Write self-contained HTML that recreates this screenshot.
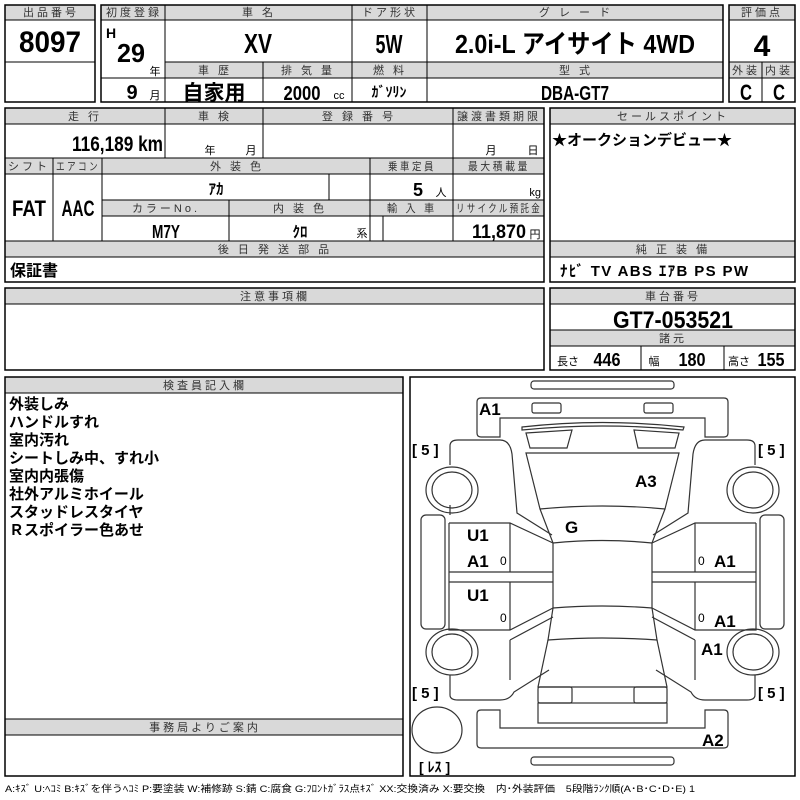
<!DOCTYPE html>
<html><head><meta charset="utf-8"><style>
html,body{margin:0;padding:0;background:#fff}
svg{display:block}
.h{fill:#d9d9d9;stroke:#000;stroke-width:1}
.b{fill:none;stroke:#000;stroke-width:1.5}
.l{stroke:#000;stroke-width:1}
.ht{font-family:"Liberation Sans","Noto Sans CJK JP",sans-serif;font-size:11px;fill:#333;text-anchor:middle;letter-spacing:3px}
.v{font-family:"Liberation Sans Narrow","Liberation Sans","Noto Sans CJK JP",sans-serif;font-weight:bold;fill:#000;text-anchor:middle}
.j{font-family:"Liberation Sans","Noto Sans CJK JP",sans-serif;font-weight:bold;fill:#000}
.s{font-family:"Liberation Sans","Noto Sans CJK JP",sans-serif;font-size:11px;fill:#000;text-anchor:middle}
.d path,.d rect,.d ellipse,.d polyline{fill:none;stroke:#333;stroke-width:1.2}
.lb{font-family:"Liberation Sans","Noto Sans CJK JP",sans-serif;font-weight:bold;font-size:17px;fill:#000}
</style></head><body>
<svg width="800" height="800" viewBox="0 0 800 800" xmlns="http://www.w3.org/2000/svg">
<rect class="h" x="5" y="5" width="90" height="15"/>
<rect class="b" x="5" y="5" width="90" height="97"/>
<line class="l" x1="5" y1="62" x2="95" y2="62"/>
<text class="ht" x="51" y="16">出品番号</text>
<text class="v" x="50" y="52" font-size="30" textLength="62" lengthAdjust="spacingAndGlyphs">8097</text>

<rect class="h" x="101" y="5" width="622" height="15"/>
<rect class="h" x="165" y="62" width="558" height="16"/>
<rect class="b" x="101" y="5" width="622" height="97"/>
<line class="l" x1="101" y1="78" x2="165" y2="78"/>
<line class="l" x1="165" y1="5" x2="165" y2="102"/>
<line class="l" x1="352" y1="5" x2="352" y2="102"/>
<line class="l" x1="427" y1="5" x2="427" y2="102"/>
<line class="l" x1="263" y1="62" x2="263" y2="102"/>
<text class="ht" x="134" y="16" letter-spacing="0">初度登録</text>
<text class="ht" x="259" y="16">車 名</text>
<text class="ht" x="390" y="16" letter-spacing="0">ドア形状</text>
<text class="ht" x="576" y="16">グ レ ー ド</text>
<text class="v" x="111" y="38" font-size="14">H</text>
<text class="v" x="131" y="62" font-size="26" textLength="28" lengthAdjust="spacingAndGlyphs">29</text>
<text class="s" x="155" y="75">年</text>
<text class="v" x="258" y="53" font-size="28" textLength="28" lengthAdjust="spacingAndGlyphs">XV</text>
<text class="v" x="389" y="53" font-size="26" textLength="27" lengthAdjust="spacingAndGlyphs">5W</text>
<text class="v" x="575" y="53" font-size="26" textLength="240" lengthAdjust="spacingAndGlyphs">2.0i-L アイサイト 4WD</text>
<text class="ht" x="215" y="74">車 歴</text>
<text class="ht" x="308" y="74">排 気 量</text>
<text class="ht" x="390" y="74">燃 料</text>
<text class="ht" x="576" y="74">型 式</text>
<text class="v" x="132" y="99" font-size="20">9</text>
<text class="s" x="155" y="99">月</text>
<text class="j" x="214" y="100" font-size="21" text-anchor="middle">自家用</text>
<text class="v" x="302" y="100" font-size="20" textLength="37" lengthAdjust="spacingAndGlyphs">2000</text>
<text class="s" x="339" y="99" font-size="10">cc</text>
<text class="j" x="389" y="97" font-size="14" text-anchor="middle">ｶﾞｿﾘﾝ</text>
<text class="v" x="575" y="100" font-size="20" textLength="68" lengthAdjust="spacingAndGlyphs">DBA-GT7</text>

<rect class="h" x="729" y="5" width="66" height="15"/>
<rect class="h" x="729" y="62" width="66" height="16"/>
<rect class="b" x="729" y="5" width="66" height="97"/>
<line class="l" x1="762" y1="62" x2="762" y2="102"/>
<text class="ht" x="762" y="16" letter-spacing="0">評価点</text>
<text class="v" x="762" y="56" font-size="30">4</text>
<text class="ht" x="746" y="74" letter-spacing="0">外装</text>
<text class="ht" x="779" y="74" letter-spacing="0">内装</text>
<text class="v" x="746" y="100" font-size="22" textLength="12" lengthAdjust="spacingAndGlyphs">C</text>
<text class="v" x="779" y="100" font-size="22" textLength="12" lengthAdjust="spacingAndGlyphs">C</text>

<rect class="h" x="5" y="108" width="539" height="16"/>
<rect class="h" x="5" y="158" width="539" height="16"/>
<rect class="h" x="102" y="200" width="442" height="16"/>
<rect class="h" x="5" y="241" width="539" height="16"/>
<rect class="b" x="5" y="108" width="539" height="174"/>
<line class="l" x1="165" y1="108" x2="165" y2="158"/>
<line class="l" x1="263" y1="108" x2="263" y2="158"/>
<line class="l" x1="453" y1="108" x2="453" y2="241"/>
<line class="l" x1="53" y1="158" x2="53" y2="241"/>
<line class="l" x1="102" y1="158" x2="102" y2="241"/>
<line class="l" x1="370" y1="158" x2="370" y2="241"/>
<line class="l" x1="229" y1="200" x2="229" y2="241"/>
<line class="l" x1="329" y1="174" x2="329" y2="200"/>
<line class="l" x1="383" y1="216" x2="383" y2="241"/>
<text class="ht" x="85" y="120">走 行</text>
<text class="ht" x="215" y="120">車 検</text>
<text class="ht" x="359" y="120">登 録 番 号</text>
<text class="ht" x="499" y="120" letter-spacing="0" textLength="84" lengthAdjust="spacingAndGlyphs">譲渡書類期限</text>
<text class="v" x="72" y="151" font-size="21" text-anchor="start" style="text-anchor:start" textLength="91" lengthAdjust="spacingAndGlyphs">116,189 km</text>
<text class="s" x="210" y="154">年</text>
<text class="s" x="251" y="154">月</text>
<text class="s" x="491" y="154">月</text>
<text class="s" x="533" y="154">日</text>
<text class="ht" x="29" y="170" letter-spacing="0" textLength="42" lengthAdjust="spacingAndGlyphs">シフト</text>
<text class="ht" x="78" y="170" letter-spacing="0" textLength="44" lengthAdjust="spacingAndGlyphs">エアコン</text>
<text class="ht" x="237" y="170">外 装 色</text>
<text class="ht" x="412" y="170" letter-spacing="0" textLength="48" lengthAdjust="spacingAndGlyphs">乗車定員</text>
<text class="ht" x="499" y="170" letter-spacing="0" textLength="62" lengthAdjust="spacingAndGlyphs">最大積載量</text>
<text class="v" x="29" y="216" font-size="22" textLength="34" lengthAdjust="spacingAndGlyphs">FAT</text>
<text class="v" x="78" y="216" font-size="22" textLength="33" lengthAdjust="spacingAndGlyphs">AAC</text>
<text class="j" x="216" y="194" font-size="15" text-anchor="middle">ｱｶ</text>
<text class="v" x="418" y="196" font-size="18">5</text>
<text class="s" x="441" y="196" font-size="10">人</text>
<text class="s" x="541" y="196" style="text-anchor:end">kg</text>
<text class="ht" x="166" y="212">カラーNo.</text>
<text class="ht" x="300" y="212">内 装 色</text>
<text class="ht" x="412" y="212" letter-spacing="0" textLength="50" lengthAdjust="spacingAndGlyphs">輸 入 車</text>
<text class="ht" x="499" y="212" letter-spacing="0" textLength="86" lengthAdjust="spacingAndGlyphs">リサイクル預託金</text>
<text class="v" x="166" y="238" font-size="18" textLength="28" lengthAdjust="spacingAndGlyphs">M7Y</text>
<text class="j" x="300" y="237" font-size="15" text-anchor="middle">ｸﾛ</text>
<text class="s" x="362" y="237">系</text>
<text class="v" x="472" y="238" font-size="19" style="text-anchor:start" textLength="54" lengthAdjust="spacingAndGlyphs">11,870</text>
<text class="s" x="535" y="238">円</text>
<text class="ht" x="275" y="253">後 日 発 送 部 品</text>
<text class="j" x="10" y="276" font-size="16">保証書</text>

<rect class="h" x="550" y="108" width="245" height="16"/>
<rect class="h" x="550" y="241" width="245" height="16"/>
<rect class="b" x="550" y="108" width="245" height="174"/>
<text class="ht" x="673" y="120">セールスポイント</text>
<text class="j" x="552" y="145" font-size="15">★オークションデビュー★</text>
<text class="ht" x="673" y="253">純 正 装 備</text>
<text class="j" x="560" y="276" font-size="15" textLength="188" lengthAdjust="spacing">ﾅﾋﾞ  TV  ABS ｴｱB PS PW</text>

<rect class="h" x="5" y="288" width="539" height="16"/>
<rect class="b" x="5" y="288" width="539" height="82"/>
<text class="ht" x="275" y="300">注意事項欄</text>

<rect class="h" x="550" y="288" width="245" height="16"/>
<rect class="h" x="550" y="330" width="245" height="16"/>
<rect class="b" x="550" y="288" width="245" height="82"/>
<line class="l" x1="641" y1="346" x2="641" y2="370"/>
<line class="l" x1="724" y1="346" x2="724" y2="370"/>
<text class="ht" x="673" y="300">車台番号</text>
<text class="v" x="673" y="328" font-size="24" textLength="120" lengthAdjust="spacingAndGlyphs">GT7-053521</text>
<text class="ht" x="673" y="342">諸元</text>
<text class="s" x="568" y="365">長さ</text>
<text class="v" x="607" y="366" font-size="18" textLength="27" lengthAdjust="spacingAndGlyphs">446</text>
<text class="s" x="654" y="365">幅</text>
<text class="v" x="692" y="366" font-size="18" textLength="27" lengthAdjust="spacingAndGlyphs">180</text>
<text class="s" x="739" y="365">高さ</text>
<text class="v" x="771" y="366" font-size="18" textLength="27" lengthAdjust="spacingAndGlyphs">155</text>

<rect class="h" x="5" y="377" width="398" height="16"/>
<rect class="h" x="5" y="719" width="398" height="16"/>
<rect class="b" x="5" y="377" width="398" height="399"/>
<text class="ht" x="205" y="389">検査員記入欄</text>
<text class="ht" x="205" y="731">事務局よりご案内</text>
<g class="j" font-size="15" font-weight="normal">
<text x="9" y="409">外装しみ</text>
<text x="9" y="427">ハンドルすれ</text>
<text x="9" y="445">室内汚れ</text>
<text x="9" y="463">シートしみ中、すれ小</text>
<text x="9" y="481">室内内張傷</text>
<text x="9" y="499">社外アルミホイール</text>
<text x="9" y="517">スタッドレスタイヤ</text>
<text x="9" y="535">Ｒスポイラー色あせ</text>
</g>

<rect class="b" x="410" y="377" width="385" height="399"/>
<g class="d">
<rect x="531" y="381" width="143" height="8" rx="3"/>
<rect x="531" y="757" width="143" height="8" rx="3"/>
<path d="M477,402 q0,-4 4,-4 H724 q4,0 4,4 V433 q0,4 -4,4 H705 V418 H500 V437 H481 q-4,0 -4,-4 Z"/>
<rect x="532" y="403" width="29" height="10" rx="2"/>
<rect x="644" y="403" width="29" height="10" rx="2"/>
<path d="M477,714 q0,-4 4,-4 H500 V728 H705 V710 H724 q4,0 4,4 V744 q0,4 -4,4 H481 q-4,0 -4,-4 Z"/>
<path d="M522,427 Q602,418 684,427 L683,430 Q602,422 522,430 Z"/>
<path d="M526,433 L572,430 L567,448 L530,448 Z"/>
<path d="M634,430 L679,433 L675,448 L638,448 Z"/>
<line x1="572" y1="444" x2="634" y2="444"/>
<path d="M526,453 L679,453 L665,509 Q602,503 540,509 Z"/>
<path d="M540,509 L553,543 Q602,538 652,543 L665,509"/>
<path d="M553,543 L553,608 Q602,604 652,608 L652,543"/>
<path d="M553,608 L548,640 Q602,636 657,640 L652,608"/>
<path d="M548,640 L538,687 L667,687 L657,640"/>
<rect x="538" y="687" width="34" height="16" rx="2"/>
<rect x="634" y="687" width="33" height="16" rx="2"/>
<line x1="572" y1="692" x2="634" y2="692"/><line x1="572" y1="698" x2="634" y2="698"/>
<rect x="538" y="703" width="129" height="20"/>
<path d="M450,465 V446 q0,-6 8,-6 H500 q10,0 12,14 L517,513 L552,535"/>
<path d="M450,515 V505"/>
<rect x="421" y="515" width="24" height="114" rx="5"/>
<ellipse cx="452" cy="490" rx="26" ry="23"/><ellipse cx="452" cy="490" rx="20" ry="18"/>
<ellipse cx="452" cy="652" rx="26" ry="23"/><ellipse cx="452" cy="652" rx="20" ry="18"/>
<ellipse cx="437" cy="730" rx="25" ry="23"/>
<polyline points="449,523 510,523 553,543"/>
<polyline points="449,523 449,630 510,630 553,608"/>
<polyline points="510,523 510,572"/><polyline points="449,572 553,572"/><polyline points="449,582 553,582"/>
<polyline points="510,582 510,630"/>
<path d="M510,640 L553,617 M510,640 V680 M450,675 V695 q0,5 8,5 H500 q10,0 14,-8 L549,670"/>
<path d="M755,465 V446 q0,-6 -8,-6 H705 q-10,0 -12,14 L688,513 L653,535"/>
<rect x="760" y="515" width="24" height="114" rx="5"/>
<ellipse cx="753" cy="490" rx="26" ry="23"/><ellipse cx="753" cy="490" rx="20" ry="18"/>
<ellipse cx="753" cy="652" rx="26" ry="23"/><ellipse cx="753" cy="652" rx="20" ry="18"/>
<polyline points="756,523 695,523 652,543"/>
<polyline points="756,523 756,630 695,630 652,608"/>
<polyline points="695,523 695,572"/><polyline points="756,572 652,572"/><polyline points="756,582 652,582"/>
<polyline points="695,582 695,630"/>
<path d="M695,640 L652,617 M695,640 V680 M755,675 V695 q0,5 -8,5 H705 q-10,0 -14,-8 L656,670"/>
</g>
<g class="lb">
<text x="479" y="415">A1</text>
<text x="635" y="487">A3</text>
<text x="565" y="533">G</text>
<text x="467" y="541">U1</text>
<text x="467" y="567">A1</text>
<text x="467" y="601">U1</text>
<text x="714" y="567">A1</text>
<text x="714" y="627">A1</text>
<text x="701" y="655">A1</text>
<text x="702" y="746">A2</text>
<text x="412" y="455" font-size="15">[ 5 ]</text>
<text x="758" y="455" font-size="15">[ 5 ]</text>
<text x="412" y="698" font-size="15">[ 5 ]</text>
<text x="758" y="698" font-size="15">[ 5 ]</text>
<text x="419" y="772" font-size="14">[ ﾚｽ ]</text>
</g>
<g font-family="Liberation Sans Narrow,Liberation Sans,sans-serif" font-size="12" fill="#000">
<text x="500" y="565">0</text><text x="500" y="622">0</text>
<text x="698" y="565">0</text><text x="698" y="622">0</text>
</g>

<text x="5" y="792" font-family="Liberation Sans,Noto Sans CJK JP,sans-serif" font-size="9.5" fill="#000" textLength="690" lengthAdjust="spacingAndGlyphs">A:ｷｽﾞ U:ﾍｺﾐ B:ｷｽﾞを伴うﾍｺﾐ P:要塗装 W:補修跡 S:錆 C:腐食 G:ﾌﾛﾝﾄｶﾞﾗｽ点ｷｽﾞ XX:交換済み X:要交換　内･外装評価　5段階ﾗﾝｸ順(A･B･C･D･E) 1</text>
</svg>
</body></html>
